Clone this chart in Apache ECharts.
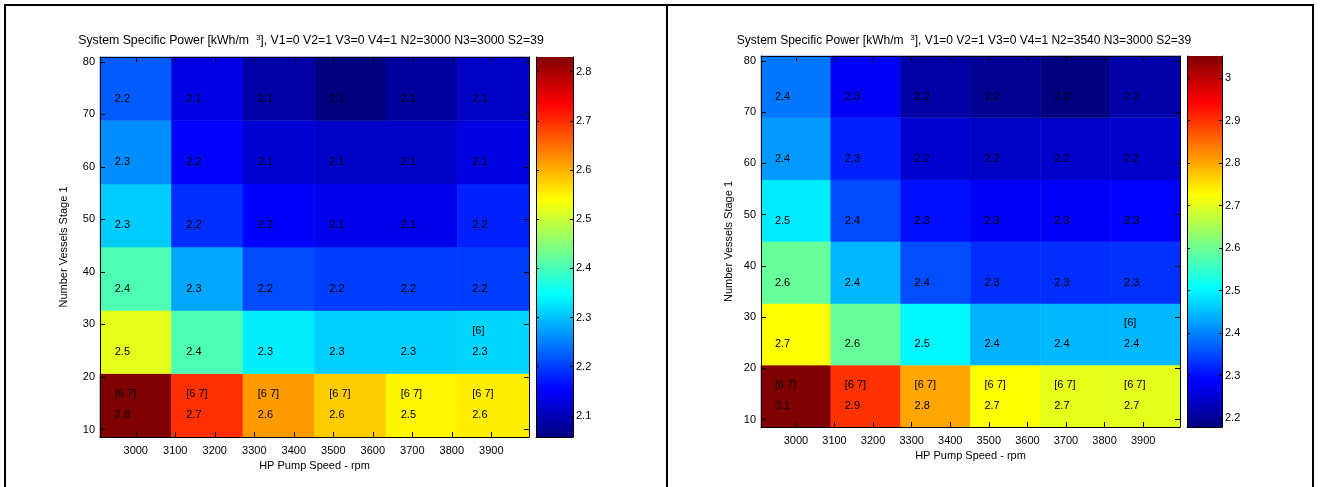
<!DOCTYPE html>
<html><head><meta charset="utf-8">
<script src="https://cdn.jsdelivr.net/npm/echarts@6/dist/echarts.min.js"></script>
<style>html,body{margin:0;padding:0;background:#fff}#c{width:1321px;height:487px}</style>
</head><body><div id="c"></div>
<script>
// ---- data ----
const xCenters = [3000, 3181, 3362, 3543, 3724, 3905];      // HP pump speed (rpm)
const yCenters = [14.6, 26.7, 38.7, 50.8, 62.8, 74.9];      // number of vessels stage 1
const xTicks = [3000, 3100, 3200, 3300, 3400, 3500, 3600, 3700, 3800, 3900];
const yTicks = [10, 20, 30, 40, 50, 60, 70, 80];
const cbTicksA = [2.1, 2.2, 2.3, 2.4, 2.5, 2.6, 2.7, 2.8];
const cbTicksB = [2.2, 2.3, 2.4, 2.5, 2.6, 2.7, 2.8, 2.9, 3];
// rows listed bottom (14.6) -> top (74.9); columns left -> right
const valuesA = [
  [2.830, 2.697, 2.617, 2.579, 2.548, 2.553],
  [2.520, 2.405, 2.335, 2.310, 2.310, 2.315],
  [2.405, 2.280, 2.210, 2.200, 2.200, 2.200],
  [2.308, 2.190, 2.152, 2.140, 2.140, 2.178],
  [2.260, 2.157, 2.120, 2.110, 2.112, 2.130],
  [2.223, 2.134, 2.088, 2.057, 2.080, 2.111]
];
const valuesB = [
  [3.052, 2.900, 2.800, 2.725, 2.703, 2.700],
  [2.725, 2.594, 2.500, 2.440, 2.445, 2.445],
  [2.594, 2.445, 2.355, 2.327, 2.327, 2.330],
  [2.490, 2.352, 2.300, 2.280, 2.280, 2.290],
  [2.420, 2.315, 2.249, 2.240, 2.245, 2.245],
  [2.390, 2.281, 2.210, 2.196, 2.179, 2.215]
];
const notes = [
  ['[6 7]', '[6 7]', '[6 7]', '[6 7]', '[6 7]', '[6 7]'],
  ['', '', '', '', '', '[6]'],
  ['', '', '', '', '', ''],
  ['', '', '', '', '', ''],
  ['', '', '', '', '', ''],
  ['', '', '', '', '', '']
];
const titleA = 'System Specific Power [kWh/m  {sup|3}], V1=0 V2=1 V3=0 V4=1 N2=3000 N3=3000 S2=39';
const titleB = 'System Specific Power [kWh/m  {sup|3}], V1=0 V2=1 V3=0 V4=1 N2=3540 N3=3000 S2=39';
const xName = 'HP Pump Speed - rpm';
const yName = 'Number Vessels Stage 1';

// ---- styling / helpers ----
const FONT = '"Liberation Sans", Arial, sans-serif';
const jet = ['#000080', '#0000ff', '#0080ff', '#00ffff', '#80ff80', '#ffff00', '#ff8000', '#ff0000', '#800000'];
const nx = xCenters.length, ny = yCenters.length;
const dx = (xCenters[nx - 1] - xCenters[0]) / (nx - 1);
const dy = (yCenters[ny - 1] - yCenters[0]) / (ny - 1);
const xMin = xCenters[0] - dx / 2, xMax = xCenters[nx - 1] + dx / 2;
const yMin = yCenters[0] - dy / 2, yMax = yCenters[ny - 1] + dy / 2;

function toData(vals) {
  const out = [];
  for (let r = 0; r < ny; r++) for (let c = 0; c < nx; c++) out.push([xCenters[c], yCenters[r], vals[r][c]]);
  return out;
}
function flatMin(v) { return Math.min.apply(null, v.flat()); }
function flatMax(v) { return Math.max.apply(null, v.flat()); }

function cellRenderer(params, api) {
  const x = api.value(0), y = api.value(1), v = api.value(2);
  const a = api.coord([x - dx / 2, y + dy / 2]);
  const b = api.coord([x + dx / 2, y - dy / 2]);
  const c = api.coord([x, y]);
  const i = params.dataIndex;
  const note = notes[Math.floor(i / nx)][i % nx];
  const color = api.visual('color');
  const children = [
    { type: 'rect', shape: { x: a[0], y: a[1], width: b[0] - a[0], height: b[1] - a[1] },
      style: { fill: color, stroke: color, lineWidth: 0.6 } },
    { type: 'text', style: { text: v.toFixed(1), x: c[0] - 21, y: c[1] + 10, fill: '#000',
      font: '11px ' + FONT, align: 'left', verticalAlign: 'middle' } }
  ];
  if (note) children.push({ type: 'text', style: { text: note, x: c[0] - 21, y: c[1] - 11, fill: '#000',
      font: '11px ' + FONT, align: 'left', verticalAlign: 'middle' } });
  return { type: 'group', children };
}
function barRenderer(params, api) {
  const lo = api.value(0), hi = api.value(1);
  const a = api.coord([0, hi]), b = api.coord([1, lo]);
  return { type: 'rect', shape: { x: a[0], y: a[1], width: b[0] - a[0], height: b[1] - a[1] },
    style: { fill: { type: 'linear', x: 0, y: 1, x2: 0, y2: 0,
      colorStops: jet.map((col, k) => ({ offset: k / (jet.length - 1), color: col })) } } };
}

const lineStyle = { color: '#000', width: 1 };
const lbl = { color: '#000', fontSize: 11, fontFamily: FONT };
const plain = v => String(Math.round(v * 100) / 100);
function xAxisPair(grid, nameGap) {
  return [
    { type: 'value', gridIndex: grid, position: 'bottom', min: xMin, max: xMax, z: 5,
      name: xName, nameLocation: 'middle', nameGap: nameGap, nameTextStyle: lbl,
      axisLine: { lineStyle }, splitLine: { show: false },
      axisTick: { show: true, inside: true, length: 5, lineStyle, customValues: xTicks },
      axisLabel: Object.assign({ margin: 8, customValues: xTicks, formatter: plain }, lbl) },
    { type: 'value', gridIndex: grid, position: 'top', min: xMin, max: xMax, z: 5,
      axisLine: { lineStyle }, splitLine: { show: false },
      axisTick: { show: true, inside: true, length: 5, lineStyle, customValues: xTicks },
      axisLabel: { show: false, customValues: xTicks } }
  ];
}
function yAxisPair(grid, nameGap) {
  return [
    { type: 'value', gridIndex: grid, position: 'left', min: yMin, max: yMax, z: 5,
      name: yName, nameLocation: 'middle', nameGap: nameGap, nameTextStyle: lbl,
      axisLine: { lineStyle }, splitLine: { show: false },
      axisTick: { show: true, inside: true, length: 5, lineStyle, customValues: yTicks },
      axisLabel: Object.assign({ margin: 5, customValues: yTicks, formatter: plain }, lbl) },
    { type: 'value', gridIndex: grid, position: 'right', min: yMin, max: yMax, z: 5,
      axisLine: { lineStyle }, splitLine: { show: false },
      axisTick: { show: true, inside: true, length: 5, lineStyle, customValues: yTicks },
      axisLabel: { show: false, customValues: yTicks } }
  ];
}
function cbX(grid) {
  return { type: 'value', gridIndex: grid, min: 0, max: 1, z: 5,
    axisLine: { show: true, onZero: false, lineStyle }, axisTick: { show: false },
    axisLabel: { show: false }, splitLine: { show: false } };
}
function cbY(grid, lo, hi, ticks) {
  return [
    { type: 'value', gridIndex: grid, position: 'left', min: lo, max: hi, z: 5,
      axisLine: { lineStyle }, splitLine: { show: false },
      axisTick: { show: true, inside: true, length: 3, lineStyle, customValues: ticks },
      axisLabel: { show: false, customValues: ticks } },
    { type: 'value', gridIndex: grid, position: 'right', min: lo, max: hi, z: 5,
      axisLine: { lineStyle }, splitLine: { show: false },
      axisTick: { show: true, inside: true, length: 3, lineStyle, customValues: ticks },
      axisLabel: Object.assign({ margin: 3, customValues: ticks, formatter: plain }, lbl) }
  ];
}

const aMin = flatMin(valuesA), aMax = flatMax(valuesA);
const bMin = flatMin(valuesB), bMax = flatMax(valuesB);

const option = {
  animation: false,
  backgroundColor: '#fff',
  grid: [
    { left: 100, top: 57, width: 429, height: 380 },
    { left: 536, top: 57, width: 37, height: 380 },
    { left: 761, top: 56, width: 419, height: 371 },
    { left: 1187, top: 56, width: 35, height: 371 }
  ],
  xAxis: [].concat(xAxisPair(0, 21), [cbX(1)], xAxisPair(2, 20), [cbX(3)]),
  yAxis: [].concat(yAxisPair(0, 31), cbY(1, aMin, aMax, cbTicksA), yAxisPair(2, 27), cbY(3, bMin, bMax, cbTicksB)),
  visualMap: [
    { type: 'continuous', show: false, seriesIndex: 0, dimension: 2, min: aMin, max: aMax, inRange: { color: jet } },
    { type: 'continuous', show: false, seriesIndex: 2, dimension: 2, min: bMin, max: bMax, inRange: { color: jet } }
  ],
  series: [
    { type: 'custom', xAxisIndex: 0, yAxisIndex: 0, z: 1, renderItem: cellRenderer, data: toData(valuesA) },
    { type: 'custom', xAxisIndex: 2, yAxisIndex: 3, z: 1, renderItem: barRenderer, data: [[aMin, aMax]] },
    { type: 'custom', xAxisIndex: 3, yAxisIndex: 4, z: 1, renderItem: cellRenderer, data: toData(valuesB) },
    { type: 'custom', xAxisIndex: 5, yAxisIndex: 7, z: 1, renderItem: barRenderer, data: [[bMin, bMax]] }
  ],
  graphic: [
    { type: 'line', shape: { x1: 4, y1: 5, x2: 1314, y2: 5 }, style: { stroke: '#000', lineWidth: 2 } },
    { type: 'line', shape: { x1: 5, y1: 4, x2: 5, y2: 487 }, style: { stroke: '#000', lineWidth: 2 } },
    { type: 'line', shape: { x1: 667, y1: 4, x2: 667, y2: 487 }, style: { stroke: '#000', lineWidth: 2 } },
    { type: 'line', shape: { x1: 1313, y1: 4, x2: 1313, y2: 487 }, style: { stroke: '#000', lineWidth: 2 } },
    { type: 'text', x: 311, y: 41, style: { text: titleA, font: '12.3px ' + FONT, fill: '#000', align: 'center', verticalAlign: 'middle',
      rich: { sup: { fontSize: 8, fontFamily: FONT, verticalAlign: 'top', lineHeight: 14 } } } },
    { type: 'text', x: 964, y: 41, style: { text: titleB, font: '12px ' + FONT, fill: '#000', align: 'center', verticalAlign: 'middle',
      rich: { sup: { fontSize: 8, fontFamily: FONT, verticalAlign: 'top', lineHeight: 14 } } } }
  ]
};
echarts.init(document.getElementById('c')).setOption(option);
</script></body></html>
